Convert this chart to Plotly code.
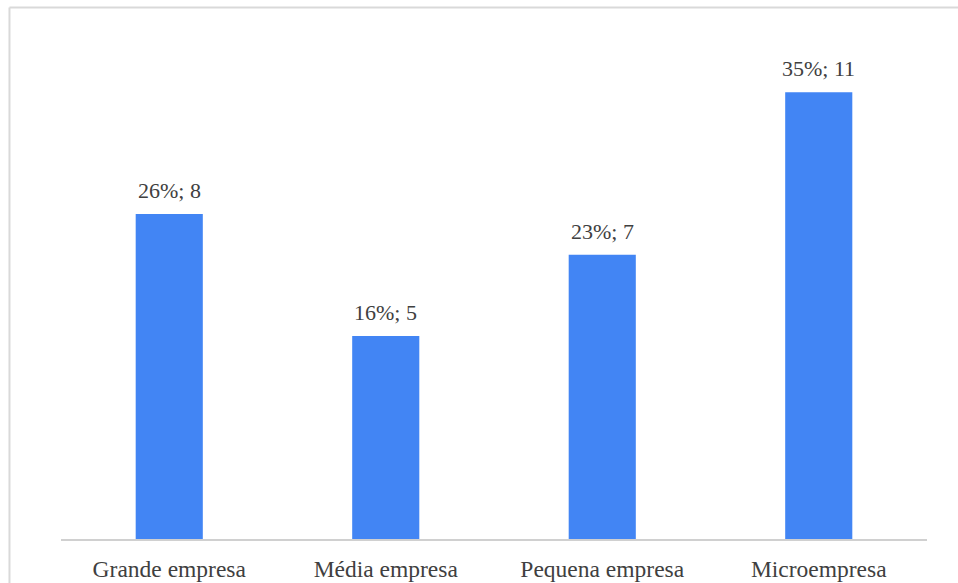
import plotly.graph_objects as go

categories = ["Grande empresa", "Média empresa", "Pequena empresa", "Microempresa"]
counts = [8, 5, 7, 11]
percents = ["26%", "16%", "23%", "35%"]

BAR_COLOR = "#4285F4"
TEXT_COLOR = "#404040"
FONT = "Liberation Serif"

fig = go.Figure(
    go.Bar(
        x=categories,
        y=counts,
        marker=dict(color=BAR_COLOR, line=dict(width=0)),
        width=0.31,
        hoverinfo="skip",
    )
)

# value labels above each bar: "<percent>; <count>"
for cat, n, p in zip(categories, counts, percents):
    fig.add_annotation(
        x=cat, y=n, text=f"{p}; {n}", showarrow=False,
        yanchor="bottom", yshift=9,
        font=dict(family=FONT, size=22, color=TEXT_COLOR),
    )

# light frame around the chart (left and top edges)
frame = dict(color="#d9d9d9", width=2)
fig.add_shape(type="line", xref="paper", yref="paper",
              x0=-0.0595, x1=-0.0595, y0=-0.1, y1=1.0066, line=frame)
fig.add_shape(type="line", xref="paper", yref="paper",
              x0=-0.0595, x1=1.1, y0=1.0066, y1=1.0066, line=frame)

fig.update_layout(
    width=958, height=583,
    margin=dict(l=61, r=31, t=11, b=44),
    paper_bgcolor="white", plot_bgcolor="white",
    showlegend=False,
    font=dict(family=FONT, size=22, color=TEXT_COLOR),
    xaxis=dict(
        showline=True, linecolor="#d0d0d0", linewidth=2,
        showgrid=False, zeroline=False, ticks="",
        ticklabelstandoff=8, automargin=False,
        tickfont=dict(family=FONT, size=23.5, color=TEXT_COLOR),
    ),
    yaxis=dict(
        range=[0, 13], visible=False, showgrid=False, zeroline=False,
        automargin=False,
    ),
)

fig.write_html("out.html")
